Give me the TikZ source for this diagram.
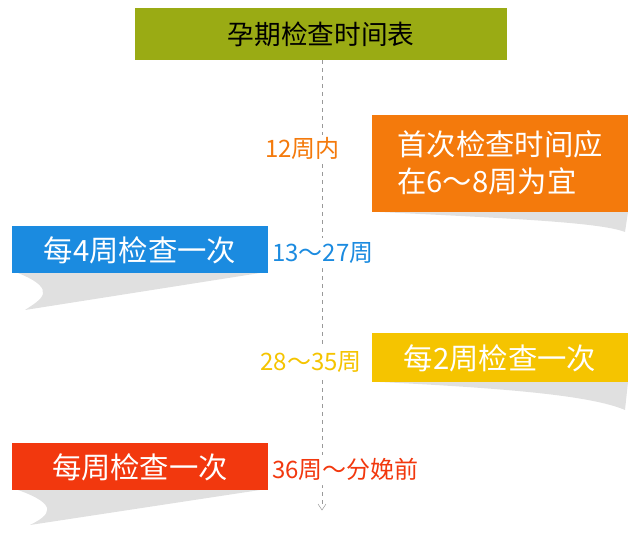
\documentclass[tikz,border=0pt]{standalone}
\usepackage{fontspec}
\newfontfamily\cjk{Noto Sans CJK SC}
\usetikzlibrary{arrows.meta}
\definecolor{olive}{HTML}{9AAB14}
\definecolor{org}{HTML}{F47A0C}
\definecolor{blu}{HTML}{1B8BE0}
\definecolor{yel}{HTML}{F5C400}
\definecolor{rd}{HTML}{F2380E}
\begin{document}
\begin{tikzpicture}[x=0.75pt,y=-0.75pt,
 box/.style={inner sep=0pt,text=white,font=\cjk\fontsize{22}{28}\selectfont,align=left},
 lab/.style={font=\cjk\fontsize{18}{21}\selectfont,inner sep=0pt}]
\useasboundingbox (0,0) rectangle (640,546);
% shadows
\fill[black!12] (380,212) .. controls (500,218) and (600,222) .. (625,232) -- (628,212) -- cycle;
\fill[black!12] (18,273) .. controls (60,290) and (40,300) .. (25,310) -- (260,273) -- cycle;
\fill[black!12] (380,382) .. controls (500,388) and (590,395) .. (625,410) -- (628,382) -- cycle;
\fill[black!12] (18,490) .. controls (60,505) and (50,515) .. (30,525) -- (260,490) -- cycle;
\draw[black!40,dashed] (322,60) -- (322,505);
\draw[black!40] (318,504) -- (322,510) -- (326,504);
\fill[olive] (135,8) rectangle (507,60);
\node[font=\cjk\fontsize{20}{24}\selectfont] (t) at (321,34) {孕期检查时间表};
\fill[org] (372,115) rectangle (628,212);
\node[box] (a) at (500,163) {首次检查时间应\\在6～8周为宜};
\fill[blu] (12,226) rectangle (268,273);
\node[box] (b) at (140,250) {每4周检查一次};
\fill[yel] (372,333) rectangle (628,382);
\node[box] (c) at (500,358) {每2周检查一次};
\fill[rd] (12,443) rectangle (268,490);
\node[box] (d) at (140,467) {每周检查一次};
\fill[white] (250,135) rectangle (345,162) (240,346) rectangle (364,378) (270,238) rectangle (392,268) (270,455) rectangle (455,485);
\node[lab,text=org,anchor=east] (la) at (340,148) {12周内};
\node[lab,text=blu,anchor=west] (lb) at (272,253) {13～27周};
\node[lab,text=yel,anchor=east] (lc) at (362,362) {28～35周};
\node[lab,text=rd,anchor=west] (ld) at (272,469) {36周～分娩前};
\end{tikzpicture}
\end{document}
